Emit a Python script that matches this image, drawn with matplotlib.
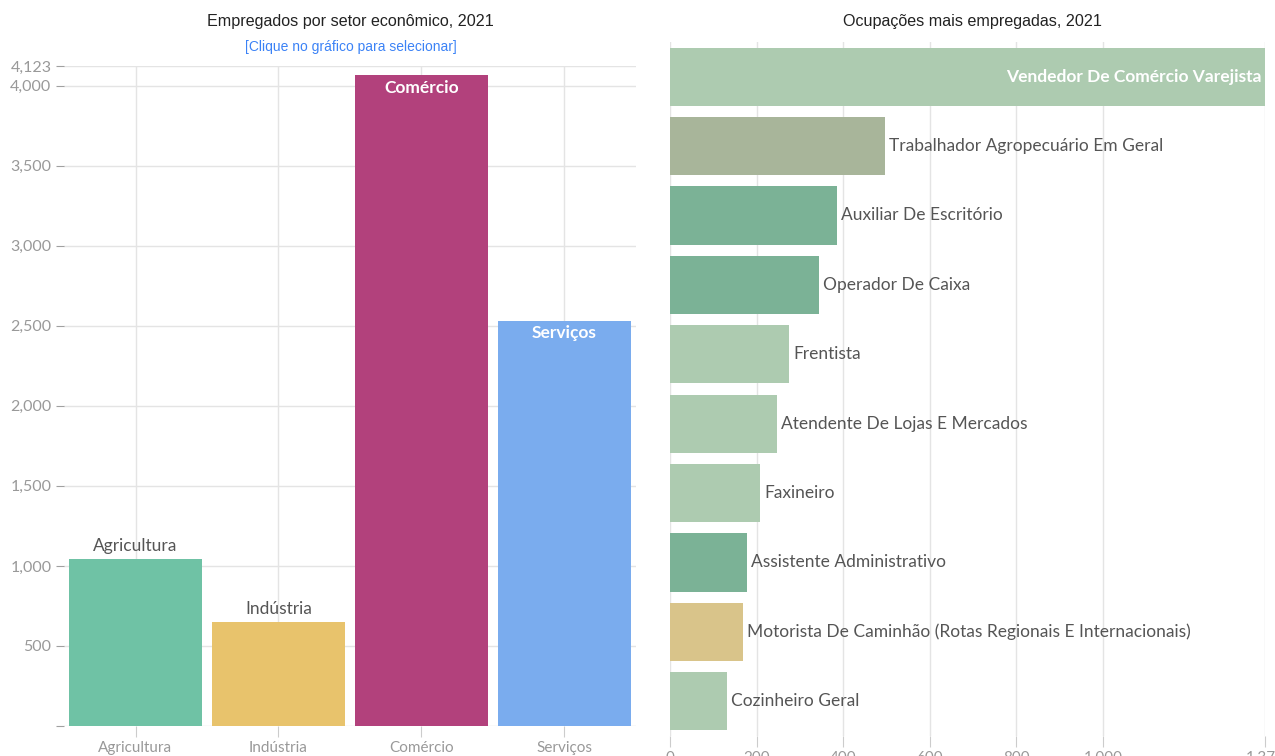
import matplotlib.pyplot as plt
import numpy as np
from matplotlib.ticker import FuncFormatter

# Setores
setores = ['Agricultura', 'Indústria', 'Comércio', 'Serviços']
empregados = [1042, 649, 4068, 2533]
cores_setor = ['#6fc2a5', '#e8c36c', '#b2417c', '#7aacee']
y_max = 4123

# Ocupacoes
ocupacoes = ['Vendedor De Comércio Varejista', 'Trabalhador Agropecuário Em Geral',
             'Auxiliar De Escritório', 'Operador De Caixa', 'Frentista',
             'Atendente De Lojas E Mercados', 'Faxineiro', 'Assistente Administrativo',
             'Motorista De Caminhão (Rotas Regionais E Internacionais)', 'Cozinheiro Geral']
ocup_valores = [1373, 496, 385, 344, 275, 247, 208, 178, 168, 131]
cores_ocup = ['#adcbb0', '#a8b59a', '#7bb296', '#7bb296', '#adcbb0',
              '#adcbb0', '#adcbb0', '#7bb296', '#d9c48a', '#adcbb0']
x_max = 1374

LABEL_FONT = ['Liberation Sans Narrow', 'Lato', 'DejaVu Sans']
TITLE_FONT = ['Liberation Sans', 'DejaVu Sans']
GRID = '#e4e4e4'
TICK = '#a0a0a0'

fig = plt.figure(figsize=(12.75, 7.56), dpi=100)
fmt = FuncFormatter(lambda v, p: '{:,.0f}'.format(v))

# ---- left: setores
ax1 = fig.add_axes([0.0502, 0.0397, 0.4486, 0.873])
x = np.arange(len(setores))
ax1.bar(x, empregados, width=0.93, color=cores_setor, zorder=2)
ax1.set_xlim(-0.5, 3.5)
ax1.set_ylim(0, y_max)
ax1.set_yticks([0, 500, 1000, 1500, 2000, 2500, 3000, 3500, 4000, y_max])
ax1.yaxis.set_major_formatter(FuncFormatter(lambda v, p: '' if v == 0 else '{:,.0f}'.format(v)))
ax1.set_xticks(x)
ax1.set_xticklabels(setores)
ax1.grid(True, color=GRID, linewidth=1, zorder=0)
for s in ax1.spines.values():
    s.set_visible(False)
ax1.tick_params(axis='y', length=6, color=TICK, labelcolor='#999999', labelsize=11.5, pad=3)
ax1.tick_params(axis='x', length=8, color='#cccccc', labelcolor='#999999', labelsize=11, pad=3)
for lbl in ax1.get_xticklabels() + ax1.get_yticklabels():
    lbl.set_family(LABEL_FONT)

for i, (nome, v) in enumerate(zip(setores, empregados)):
    if v > 2000:
        ax1.text(i, v - 30, nome, ha='center', va='top', color='white', fontsize=12.5,
                 fontweight='bold', family=LABEL_FONT, zorder=3)
    else:
        ax1.text(i, v + 30, nome, ha='center', va='bottom', color='#555555', fontsize=12.5,
                 family=LABEL_FONT, zorder=3)

fig.text(0.275, 0.971, 'Empregados por setor econômico, 2021', ha='center', va='center',
         fontsize=11.6, family=TITLE_FONT, color='#222222')
fig.text(0.275, 0.938, '[Clique no gráfico para selecionar]', ha='center', va='center',
         fontsize=10, family=TITLE_FONT, color='#3b82f6')

# ---- right: ocupacoes
ax2 = fig.add_axes([0.5255, 0.0265, 0.4667, 0.918])
y = np.arange(len(ocupacoes))
ax2.barh(y, ocup_valores, height=0.84, color=cores_ocup, zorder=2)
ax2.set_ylim(len(ocupacoes) - 0.5, -0.5)
ax2.set_xlim(0, x_max)
ax2.set_xticks([0, 200, 400, 600, 800, 1000, x_max])
ax2.xaxis.set_major_formatter(fmt)
ax2.set_yticks([])
ax2.grid(True, axis='x', color=GRID, linewidth=1, zorder=0)
for s in ax2.spines.values():
    s.set_visible(False)
ax2.tick_params(axis='x', length=8, color='#cccccc', labelcolor='#999999', labelsize=11, pad=3)
for lbl in ax2.get_xticklabels():
    lbl.set_family(LABEL_FONT)

for i, (nome, v) in enumerate(zip(ocupacoes, ocup_valores)):
    if v > 1000:
        ax2.text(v - 8, i, nome, ha='right', va='center', color='white', fontsize=12.5,
                 fontweight='bold', family=LABEL_FONT, zorder=3)
    else:
        ax2.text(v + 10, i, nome, ha='left', va='center', color='#555555', fontsize=12.5,
                 family=LABEL_FONT, zorder=3)

fig.text(0.763, 0.971, 'Ocupações mais empregadas, 2021', ha='center', va='center',
         fontsize=11.6, family=TITLE_FONT, color='#222222')

fig.savefig('out.png', dpi=100)
